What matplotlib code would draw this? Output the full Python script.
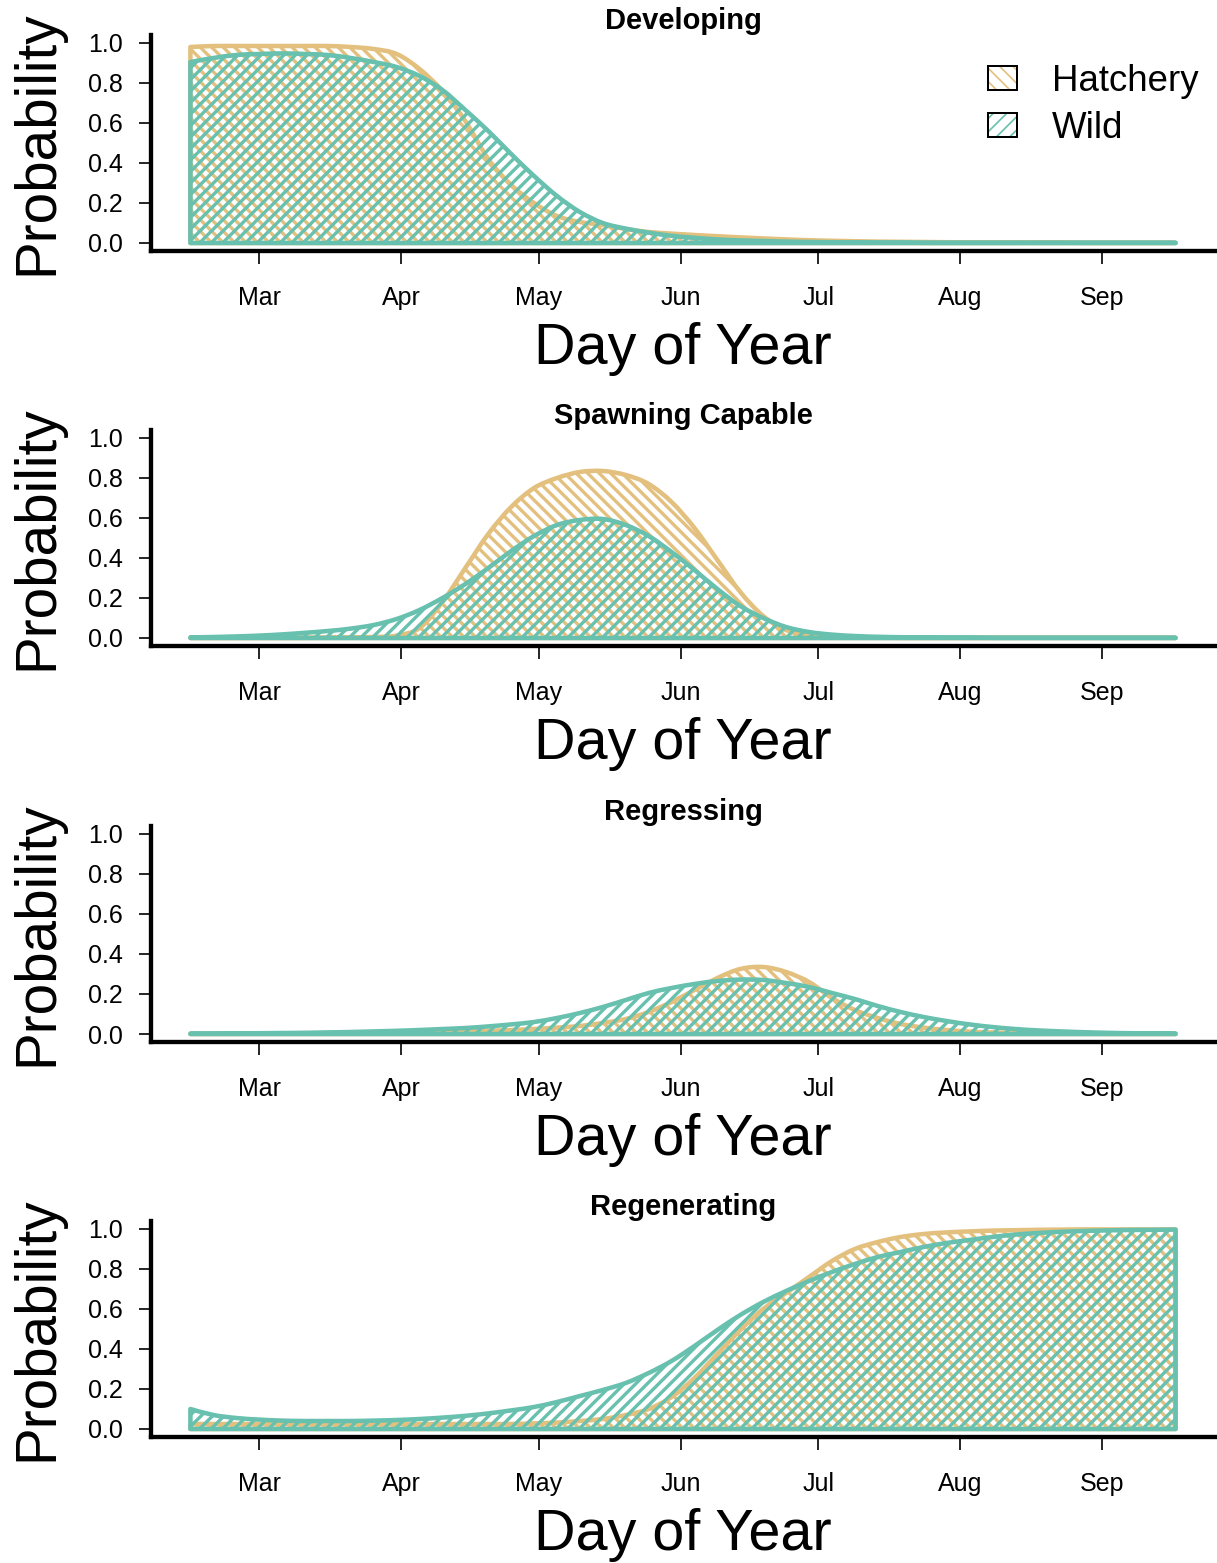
import numpy as np
import matplotlib
matplotlib.use("Agg")
import matplotlib.pyplot as plt
from matplotlib.path import Path
from matplotlib.patches import Patch, PathPatch
from matplotlib.collections import LineCollection
from matplotlib.transforms import IdentityTransform
from matplotlib.legend_handler import HandlerTuple
from matplotlib.ticker import FormatStrFormatter

plt.rcParams["font.family"] = ["Liberation Sans", "DejaVu Sans"]

# day-of-year grid the model curves were evaluated on
DAYS = [45, 50, 55, 60, 65, 70, 75, 80, 85, 90, 95, 100, 105, 110, 115,
        120, 125, 130, 135, 140, 145, 150, 155, 160, 165, 170, 175, 180,
        185, 190, 195, 200, 205, 210, 215, 220, 225, 230, 235, 240, 245,
        250, 255, 260]

MONTH_DAYS = [60, 91, 121, 152, 182, 213, 244]
MONTH_LABELS = ["Mar", "Apr", "May", "Jun", "Jul", "Aug", "Sep"]

STAGES = ["Developing", "Spawning Capable", "Regressing", "Regenerating"]

# predicted probability of each maturity stage, hatchery fish
HATCHERY_DEV = [0.98, 0.985, 0.985, 0.985, 0.985, 0.985, 0.985, 0.98, 0.97,
                0.945, 0.87, 0.76, 0.61, 0.42, 0.29, 0.20, 0.135, 0.105,
                0.09, 0.07, 0.055, 0.047, 0.04, 0.034, 0.028, 0.023, 0.018,
                0.014, 0.011, 0.009, 0.007, 0.006, 0.005, 0.004, 0.003,
                0.003, 0.002, 0.002, 0.002, 0.001, 0.001, 0.001, 0.001, 0.001]
HATCHERY_SPAWN = [0.001, 0.001, 0.001, 0.001, 0.001, 0.001, 0.002, 0.003,
                  0.005, 0.012, 0.05, 0.18, 0.35, 0.52, 0.655, 0.75, 0.80,
                  0.83, 0.835, 0.815, 0.77, 0.68, 0.55, 0.39, 0.23, 0.11,
                  0.04, 0.015, 0.006, 0.003, 0.002, 0.001, 0.001, 0.001,
                  0.001, 0.001, 0.001, 0.001, 0.001, 0.001, 0.001, 0.001,
                  0.001, 0.001]
HATCHERY_REGRESS = [0.001, 0.001, 0.001, 0.002, 0.002, 0.003, 0.003, 0.004,
                    0.005, 0.006, 0.008, 0.01, 0.012, 0.016, 0.02, 0.025,
                    0.032, 0.04, 0.055, 0.075, 0.11, 0.16, 0.22, 0.28, 0.325,
                    0.335, 0.31, 0.26, 0.18, 0.12, 0.08, 0.05, 0.032, 0.02,
                    0.012, 0.008, 0.005, 0.003, 0.002, 0.002, 0.001, 0.001,
                    0.001, 0.001]
HATCHERY_REGEN = [0.025, 0.025, 0.025, 0.025, 0.025, 0.025, 0.025, 0.025,
                  0.025, 0.025, 0.025, 0.025, 0.025, 0.025, 0.025, 0.028,
                  0.032, 0.04, 0.05, 0.07, 0.10, 0.16, 0.255, 0.375, 0.495,
                  0.60, 0.68, 0.76, 0.84, 0.90, 0.935, 0.96, 0.975, 0.983,
                  0.988, 0.992, 0.994, 0.996, 0.997, 0.998, 0.998, 0.998,
                  0.998, 0.998]

# same stages, wild fish
WILD_DEV = [0.905, 0.925, 0.94, 0.945, 0.948, 0.945, 0.94, 0.925, 0.905,
            0.88, 0.835, 0.765, 0.665, 0.56, 0.445, 0.335, 0.235, 0.155,
            0.10, 0.072, 0.052, 0.036, 0.026, 0.018, 0.013, 0.01, 0.007,
            0.005, 0.004, 0.003, 0.002, 0.002, 0.001, 0.001, 0.001, 0.001,
            0.001, 0.001, 0.001, 0.001, 0.001, 0.001, 0.001, 0.001]
WILD_SPAWN = [0.003, 0.005, 0.008, 0.012, 0.018, 0.026, 0.035, 0.047, 0.065,
              0.095, 0.14, 0.20, 0.27, 0.35, 0.435, 0.51, 0.565, 0.59,
              0.595, 0.565, 0.51, 0.43, 0.34, 0.245, 0.16, 0.10, 0.055, 0.03,
              0.017, 0.01, 0.006, 0.004, 0.003, 0.002, 0.002, 0.001, 0.001,
              0.001, 0.001, 0.001, 0.001, 0.001, 0.001, 0.001]
WILD_REGRESS = [0.002, 0.002, 0.003, 0.004, 0.005, 0.006, 0.008, 0.01, 0.013,
                0.016, 0.02, 0.025, 0.03, 0.038, 0.048, 0.06, 0.08, 0.105,
                0.135, 0.17, 0.205, 0.23, 0.25, 0.265, 0.272, 0.27, 0.255,
                0.235, 0.205, 0.175, 0.14, 0.11, 0.085, 0.065, 0.048, 0.035,
                0.025, 0.018, 0.013, 0.009, 0.006, 0.004, 0.003, 0.002]
WILD_REGEN = [0.10, 0.07, 0.055, 0.047, 0.042, 0.04, 0.04, 0.04, 0.042,
              0.045, 0.05, 0.057, 0.066, 0.078, 0.093, 0.11, 0.135, 0.165,
              0.195, 0.23, 0.28, 0.34, 0.415, 0.495, 0.57, 0.635, 0.69,
              0.74, 0.785, 0.825, 0.86, 0.885, 0.91, 0.93, 0.945, 0.96, 0.972,
              0.98, 0.986, 0.99, 0.993, 0.995, 0.996, 0.997]

HATCHERY = [HATCHERY_DEV, HATCHERY_SPAWN, HATCHERY_REGRESS, HATCHERY_REGEN]
WILD = [WILD_DEV, WILD_SPAWN, WILD_REGRESS, WILD_REGEN]
for s in HATCHERY + WILD:
    assert len(s) == len(DAYS)

HATCH_COL = "#E3C07E"
WILD_COL = "#68C0AF"

HATCH_GAP = 11.5    # px between hatch lines, measured horizontally
HATCH_LW = 2.0      # pt
EDGE_LW = 2.7       # pt


def area_path(x, y):
    """Closed outline under a curve; the upper edge is a smooth
    Catmull-Rom (cubic Bezier) path passing through every point."""
    x = np.asarray(x, float)
    y = np.asarray(y, float)
    n = len(x)
    verts = [(x[0], 0.0), (x[0], y[0])]
    codes = [Path.MOVETO, Path.LINETO]
    for i in range(n - 1):
        i0, i3 = max(i - 1, 0), min(i + 2, n - 1)
        c1 = (x[i] + (x[i + 1] - x[i0]) / 6, y[i] + (y[i + 1] - y[i0]) / 6)
        c2 = (x[i + 1] - (x[i3] - x[i]) / 6, y[i + 1] - (y[i3] - y[i]) / 6)
        verts += [c1, c2, (x[i + 1], y[i + 1])]
        codes += [Path.CURVE4] * 3
    verts += [(x[-1], 0.0), (x[0], 0.0)]
    codes += [Path.LINETO, Path.CLOSEPOLY]
    return Path(verts, codes)


def hatched_area(ax, x, y, color, slope, z):
    """Outline the area under y and fill it with 45 degree lines
    (slope +1 like '/', -1 like '\\') clipped to the outline."""
    outline = PathPatch(area_path(x, y), facecolor="none", edgecolor=color,
                        lw=EDGE_LW, joinstyle="round", zorder=z + 0.1)
    ax.add_patch(outline)

    bb = ax.bbox
    x0, x1, y0, y1 = bb.x0, bb.x1, bb.y0, bb.y1
    if slope > 0:
        offsets = np.arange(y0 - x1, y1 - x0 + HATCH_GAP, HATCH_GAP)
        segs = [[(x0, x0 + c), (x1, x1 + c)] for c in offsets]
    else:
        offsets = np.arange(x0 + y0, x1 + y1 + HATCH_GAP, HATCH_GAP)
        segs = [[(x0, c - x0), (x1, c - x1)] for c in offsets]
    lines = LineCollection(segs, colors=color, linewidths=HATCH_LW,
                           transform=IdentityTransform(), zorder=z)
    ax.add_collection(lines, autolim=False)
    lines.set_clip_path(outline)


W, H, DPI = 1217, 1563, 120
fig = plt.figure(figsize=(W / DPI, H / DPI), dpi=DPI)

LEFT, RIGHT = 151, 1215
PANEL_TOPS = [35, 430, 826, 1221]
PANEL_H = 216

axes = []
for i, stage in enumerate(STAGES):
    top = PANEL_TOPS[i]
    ax = fig.add_axes([LEFT / W, 1 - (top + PANEL_H) / H,
                       (RIGHT - LEFT) / W, PANEL_H / H])
    ax.set_xlim(36.4, 268.6)
    ax.set_ylim(-0.04, 1.04)

    hatched_area(ax, DAYS, HATCHERY[i], HATCH_COL, slope=-1, z=1.0)
    hatched_area(ax, DAYS, WILD[i], WILD_COL, slope=1, z=1.2)

    ax.set_xticks(MONTH_DAYS)
    ax.set_xticklabels(MONTH_LABELS)
    ax.set_yticks([0, 0.2, 0.4, 0.6, 0.8, 1.0])
    ax.yaxis.set_major_formatter(FormatStrFormatter("%.1f"))
    for side in ("top", "right"):
        ax.spines[side].set_visible(False)
    for side in ("left", "bottom"):
        ax.spines[side].set_linewidth(2.6)
    ax.tick_params(axis="x", direction="out", length=8, width=1.0,
                   labelsize=15, pad=13)
    ax.tick_params(axis="y", direction="out", length=7, width=1.0,
                   labelsize=15, pad=10)

    ax.set_xlabel("Day of Year", fontsize=34.5, labelpad=7)
    ax.set_ylabel("Probability", fontsize=34, labelpad=14)
    ax.set_title(stage, fontsize=17.5, fontweight="bold", pad=2)
    axes.append(ax)

plt.rcParams["hatch.linewidth"] = 1.0
handles = [
    (Patch(facecolor="none", edgecolor=HATCH_COL, hatch="\\\\\\", lw=0),
     Patch(facecolor="none", edgecolor="black", lw=1.2)),
    (Patch(facecolor="none", edgecolor=WILD_COL, hatch="///", lw=0),
     Patch(facecolor="none", edgecolor="black", lw=1.2)),
]
axes[0].legend(handles, ["Hatchery", "Wild"],
               handler_map={tuple: HandlerTuple(ndivide=1)},
               loc="upper left", bbox_to_anchor=(988 / W, 1 - 64 / H),
               bbox_transform=fig.transFigure, frameon=False,
               fontsize=22, borderaxespad=0, borderpad=0,
               handlelength=0.8, handleheight=0.65, handletextpad=0.95,
               labelspacing=0.32)

fig.savefig("out.png", dpi=DPI)
